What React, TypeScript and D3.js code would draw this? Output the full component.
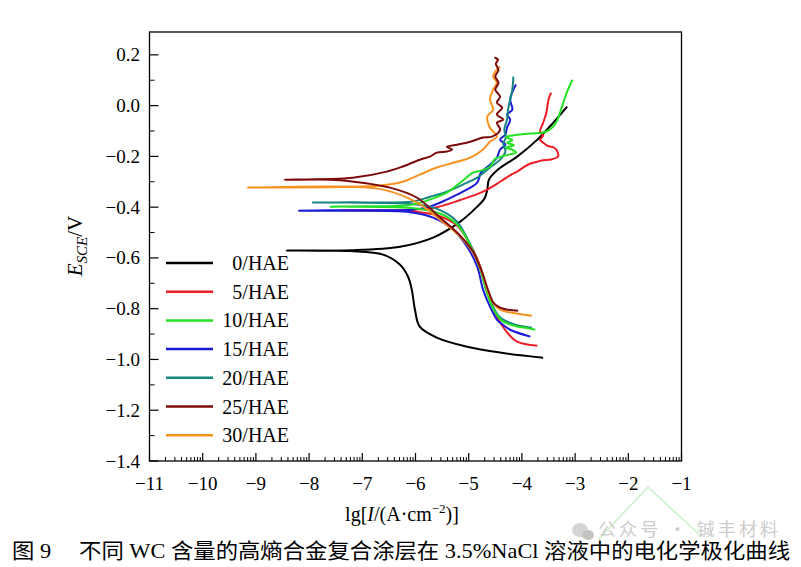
import React from "react";
import * as d3 from "d3";

// ---------- data (lg I, E) ----------
const LABELS = ["0/HAE", "5/HAE", "10/HAE", "15/HAE", "20/HAE", "25/HAE", "30/HAE"];
const X_TICKS = [-11, -10, -9, -8, -7, -6, -5, -4, -3, -2, -1];
const Y_TICKS = [0.2, 0.0, -0.2, -0.4, -0.6, -0.8, -1.0, -1.2, -1.4];

const cath0: [number, number][] = [[-8.42,-0.571],[-7.23,-0.573],[-6.61,-0.587],[-6.29,-0.627],[-6.14,-0.674],[-6.07,-0.725],[-6.01,-0.804],[-5.92,-0.871],[-5.60,-0.914],[-5.03,-0.950],[-4.41,-0.973],[-3.60,-0.993]];
const anod0: [number, number][] = [[-8.42,-0.571],[-7.23,-0.570],[-6.29,-0.556],[-5.67,-0.520],[-5.16,-0.457],[-4.84,-0.398],[-4.70,-0.365],[-4.65,-0.330],[-4.62,-0.292],[-4.45,-0.252],[-4.09,-0.201],[-3.71,-0.134],[-3.41,-0.067],[-3.15,-0.004]];

const cath5: [number, number][] = [[-7.40,-0.412],[-6.60,-0.413],[-6.00,-0.418],[-5.60,-0.432],[-5.22,-0.472],[-4.97,-0.548],[-4.79,-0.630],[-4.67,-0.720],[-4.56,-0.790],[-4.45,-0.840],[-4.28,-0.893],[-4.09,-0.930],[-3.71,-0.946]];
const anod5: [number, number][] = [[-7.40,-0.412],[-6.60,-0.412],[-6.10,-0.410],[-5.60,-0.400],[-5.16,-0.372],[-4.73,-0.339],[-4.41,-0.300],[-4.20,-0.272],[-4.09,-0.260],[-3.95,-0.240],[-3.84,-0.228],[-3.71,-0.221],[-3.60,-0.215],[-3.45,-0.212],[-3.32,-0.200],[-3.34,-0.178],[-3.40,-0.165],[-3.50,-0.160],[-3.60,-0.146],[-3.66,-0.134],[-3.60,-0.118],[-3.66,-0.104],[-3.60,-0.067],[-3.54,-0.028],[-3.50,0.024],[-3.45,0.051]];

const cath10: [number, number][] = [[-7.60,-0.398],[-7.23,-0.398],[-6.00,-0.405],[-5.54,-0.425],[-5.22,-0.468],[-4.97,-0.550],[-4.79,-0.640],[-4.67,-0.728],[-4.54,-0.800],[-4.37,-0.848],[-4.09,-0.870],[-3.90,-0.876],[-3.75,-0.883]];
const anod10: [number, number][] = [[-7.60,-0.398],[-7.23,-0.397],[-6.05,-0.390],[-5.73,-0.370],[-5.41,-0.343],[-5.20,-0.310],[-5.05,-0.285],[-4.92,-0.264],[-4.77,-0.256],[-4.60,-0.240],[-4.50,-0.209],[-4.37,-0.200],[-4.24,-0.193],[-4.11,-0.185],[-4.20,-0.172],[-4.30,-0.166],[-4.15,-0.156],[-4.28,-0.146],[-4.18,-0.136],[-4.30,-0.124],[-4.10,-0.115],[-3.84,-0.110],[-3.54,-0.102],[-3.37,-0.071],[-3.24,0.000],[-3.15,0.055],[-3.05,0.102]];

const cath15: [number, number][] = [[-8.19,-0.414],[-7.23,-0.414],[-6.10,-0.420],[-5.67,-0.441],[-5.29,-0.489],[-5.03,-0.556],[-4.84,-0.634],[-4.73,-0.725],[-4.60,-0.792],[-4.47,-0.843],[-4.41,-0.855],[-4.22,-0.883],[-3.84,-0.910]];
const anod15: [number, number][] = [[-8.19,-0.414],[-7.23,-0.412],[-6.05,-0.410],[-5.73,-0.398],[-5.41,-0.370],[-5.11,-0.339],[-4.84,-0.303],[-4.77,-0.264],[-4.60,-0.233],[-4.47,-0.205],[-4.41,-0.173],[-4.31,-0.154],[-4.41,-0.134],[-4.31,-0.114],[-4.28,-0.087],[-4.22,-0.055],[-4.28,-0.035],[-4.18,-0.016],[-4.22,0.024],[-4.16,0.063],[-4.11,0.083]];

const cath20: [number, number][] = [[-7.93,-0.382],[-7.23,-0.382],[-5.97,-0.390],[-5.54,-0.412],[-5.22,-0.457],[-4.97,-0.548],[-4.79,-0.638],[-4.67,-0.725],[-4.56,-0.784],[-4.41,-0.835],[-4.13,-0.863],[-3.81,-0.875]];
const anod20: [number, number][] = [[-7.93,-0.382],[-7.23,-0.381],[-6.05,-0.378],[-5.73,-0.359],[-5.41,-0.339],[-5.11,-0.311],[-4.84,-0.284],[-4.60,-0.244],[-4.41,-0.213],[-4.31,-0.180],[-4.35,-0.150],[-4.30,-0.125],[-4.33,-0.095],[-4.28,-0.055],[-4.26,-0.016],[-4.22,0.024],[-4.18,0.063],[-4.16,0.114]];

const cath25: [number, number][] = [[-8.46,-0.292],[-7.60,-0.292],[-7.23,-0.298],[-6.48,-0.323],[-5.97,-0.363],[-5.54,-0.441],[-5.16,-0.512],[-4.92,-0.575],[-4.75,-0.655],[-4.63,-0.730],[-4.52,-0.780],[-4.35,-0.800],[-4.07,-0.808]];
const anod25: [number, number][] = [[-8.46,-0.292],[-7.18,-0.284],[-6.54,-0.260],[-6.24,-0.240],[-5.92,-0.213],[-5.73,-0.201],[-5.60,-0.185],[-5.41,-0.181],[-5.31,-0.173],[-5.41,-0.162],[-5.22,-0.154],[-4.97,-0.142],[-4.73,-0.126],[-4.56,-0.122],[-4.41,-0.095],[-4.47,-0.067],[-4.35,-0.055],[-4.47,-0.035],[-4.37,-0.008],[-4.47,0.012],[-4.41,0.035],[-4.50,0.063],[-4.44,0.090],[-4.50,0.115],[-4.44,0.140],[-4.49,0.165],[-4.45,0.180],[-4.50,0.189],[-4.44,0.178]];

const cath30: [number, number][] = [[-9.15,-0.323],[-7.23,-0.320],[-6.61,-0.331],[-5.97,-0.382],[-5.54,-0.449],[-5.16,-0.516],[-4.92,-0.579],[-4.75,-0.658],[-4.65,-0.725],[-4.54,-0.776],[-4.41,-0.804],[-4.07,-0.820],[-3.81,-0.828]];
const anod30: [number, number][] = [[-9.15,-0.323],[-6.67,-0.315],[-6.24,-0.300],[-5.92,-0.272],[-5.60,-0.244],[-5.29,-0.225],[-4.97,-0.205],[-4.73,-0.173],[-4.60,-0.142],[-4.47,-0.122],[-4.60,-0.087],[-4.65,-0.043],[-4.54,-0.016],[-4.60,0.024],[-4.54,0.063],[-4.47,0.091],[-4.54,0.114],[-4.47,0.142],[-4.41,0.154]];

const SERIES = [
  [cath0, anod0], [cath5, anod5], [cath10, anod10], [cath15, anod15],
  [cath20, anod20], [cath25, anod25], [cath30, anod30],
];
const COLORS = ["#000000", "#ee1c25", "#22e022", "#1a1ad8", "#17857f", "#7d0a0a", "#f7921e"];
const DRAW_ORDER = [0, 1, 3, 4, 2, 6, 5];

const W = 801, H = 567;
const x = d3.scaleLinear().domain([-11, -1]).range([149.5, 681.5]);
const y = d3.scaleLinear().domain([-1.4, 0.29]).range([461, 32]);
const SERIF = "'Liberation Serif', 'Times New Roman', serif";

export default function App() {
  const line = d3.line<[number, number]>().x(d => x(d[0])).y(d => y(d[1])).curve(d3.curveCatmullRom.alpha(0.5));
  const fmtY = (v: number) => d3.format(".1f")(v).replace("-", "\u2212");
  const fmtX = (v: number) => String(v).replace("-", "\u2212");
  const minorX: number[] = [];
  for (let d = -11; d < -1; d++) for (let k = 2; k <= 9; k++) minorX.push(d + Math.log10(k));
  const minorY: number[] = [];
  for (let v = -1.3; v <= 0.25; v += 0.2) minorY.push(+v.toFixed(2));
  const x0 = x(-11), x1 = x(-1), yb = y(-1.4), yt = y(0.29);

  return (
    <svg width={W} height={H} style={{ position: "absolute", left: 0, top: 0, background: "#fff" }}>
      <rect x={0} y={0} width={W} height={H} fill="#fff" />
      {/* curves */}
      {DRAW_ORDER.map(i => {
        const [c, a] = SERIES[i];
        const pts = [...c].reverse().concat(a.slice(1));
        return <path key={i} d={line(pts) || ""} fill="none" stroke={COLORS[i]} strokeWidth={2} strokeLinejoin="round" />;
      })}
      {/* frame */}
      <rect x={x0} y={yt} width={x1 - x0} height={yb - yt} fill="none" stroke="#000" strokeWidth={1.3} />
      {/* x ticks */}
      {X_TICKS.map(t => <line key={"xt" + t} x1={x(t)} x2={x(t)} y1={yb} y2={yb - 8} stroke="#000" strokeWidth={1.2} />)}
      {minorX.map((t, i) => <line key={"xm" + i} x1={x(t)} x2={x(t)} y1={yb} y2={yb - 4} stroke="#000" strokeWidth={1} />)}
      {X_TICKS.map(t => (
        <text key={"xl" + t} x={x(t)} y={490} textAnchor="middle" fontFamily={SERIF} fontSize={19}>{fmtX(t)}</text>
      ))}
      {/* y ticks */}
      {Y_TICKS.map(t => <line key={"yt" + t} x1={x0} x2={x0 + 9} y1={y(t)} y2={y(t)} stroke="#000" strokeWidth={1.2} />)}
      {minorY.map((t, i) => <line key={"ym" + i} x1={x0} x2={x0 + 5} y1={y(t)} y2={y(t)} stroke="#000" strokeWidth={1} />)}
      {Y_TICKS.map(t => (
        <text key={"yl" + t} x={140} y={y(t) + 6.5} textAnchor="end" fontFamily={SERIF} fontSize={19}>{fmtY(t)}</text>
      ))}
      {/* axis titles */}
      <text x={402} y={521} textAnchor="middle" fontFamily={SERIF} fontSize={20}>
        lg[<tspan fontStyle="italic">I</tspan>/(A·cm<tspan dy={-8} fontSize={13}>−2</tspan><tspan dy={8}>)]</tspan>
      </text>
      <text transform="translate(82,246) rotate(-90)" textAnchor="middle" fontFamily={SERIF} fontSize={21}>
        <tspan fontStyle="italic">E</tspan><tspan fontStyle="italic" fontSize={15} dy={5}>SCE</tspan><tspan dy={-5}>/V</tspan>
      </text>
      {/* legend */}
      {LABELS.map((lab, i) => {
        const ly = 263 + i * 28.7;
        return (
          <g key={lab}>
            <line x1={166} x2={213} y1={ly} y2={ly} stroke={COLORS[i]} strokeWidth={2.5} />
            <text x={289} y={ly + 7} textAnchor="end" fontFamily={SERIF} fontSize={20}>{lab}</text>
          </g>
        );
      })}
      {/* watermark */}
      <polyline points="598,540 648,487 702,537" fill="none" stroke="#c8f0c8" strokeWidth={1.5} />
      <ellipse cx={580} cy={530} rx={8} ry={7} fill="#d4d4d4" />
      <ellipse cx={588} cy={535} rx={6} ry={5} fill="#c4c4c4" />
      <text x={598} y={536} fontFamily="'Noto Sans CJK SC', sans-serif" fontSize={18} fill="#cccccc" textLength={180} lengthAdjust="spacing">公众号 · 铖丰材料</text>
      {/* caption */}
      <text x={12} y={558} fontFamily={SERIF + ", 'Noto Sans CJK SC'"} fontSize={21} textLength={778} lengthAdjust="spacingAndGlyphs">
        图 9　 不同 WC 含量的高熵合金复合涂层在 3.5%NaCl 溶液中的电化学极化曲线
      </text>
    </svg>
  );
}
